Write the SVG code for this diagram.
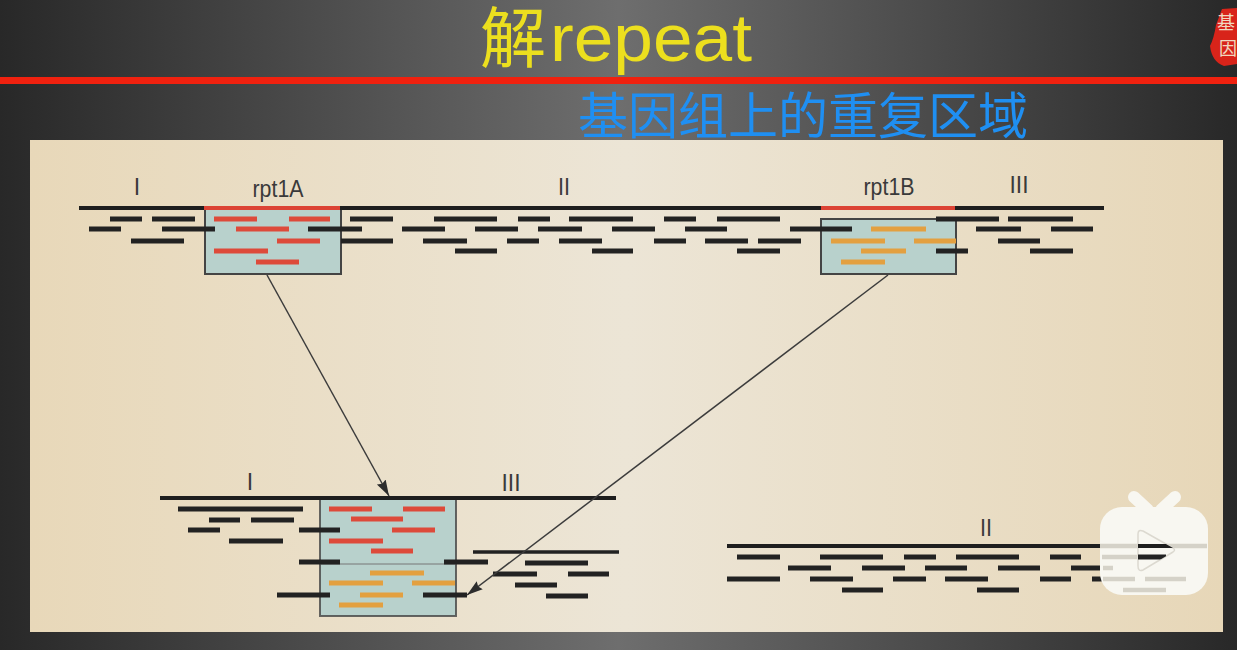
<svg xmlns="http://www.w3.org/2000/svg" width="1237" height="650" viewBox="0 0 1237 650">
<style>
.bar{stroke:#222;stroke-width:4.8;fill:none}
.red{stroke:#dd4a3a;stroke-width:4.8;fill:none}
.org{stroke:#e3a040;stroke-width:4.8;fill:none}
.main{stroke:#1e1e1e;stroke-width:4;fill:none}
.box{fill:#b8d1cc;stroke:#444;stroke-width:2}
.conn{stroke:#3c3c3c;stroke-width:1.5;fill:none;marker-end:url(#ah)}
.lab{font-family:"Liberation Sans",Arial,sans-serif;font-size:23px;fill:#3a3a3a;text-anchor:middle}
.fade{stroke:#d5d2c8;stroke-width:4.4;fill:none}
</style>
<defs>
<linearGradient id="bg" x1="0" x2="1" y1="0" y2="0"><stop offset="0" stop-color="#282828"/><stop offset=".5" stop-color="#6e6e6e"/><stop offset="1" stop-color="#282828"/></linearGradient>
<linearGradient id="pn" x1="0" x2="1" y1="0" y2="0"><stop offset="0" stop-color="#e8d8b9"/><stop offset=".5" stop-color="#ece5d6"/><stop offset="1" stop-color="#e7d7b8"/></linearGradient>
<marker id="ah" markerUnits="userSpaceOnUse" markerWidth="18" markerHeight="12" refX="16" refY="6" orient="auto"><path d="M0 1 L16 6 L0 11 L2 6 Z" fill="#2c2c2c"/></marker>
<clipPath id="tri"><path d="M1138 534 Q1138 529 1143 531 L1173 548 Q1176 550 1173 552 L1143 570 Q1138 572 1138 566 Z"/></clipPath>
</defs>
<rect width="1237" height="650" fill="url(#bg)"/>
<g id="header">
<rect x="0" y="77" width="1237" height="7" fill="#f0210f"/>
<text x="480" y="62" font-family="'Liberation Sans','Noto Sans CJK SC',sans-serif" font-size="66" fill="#ecdf1e">解</text>
<text x="550" y="61" font-family="'Liberation Sans',sans-serif" font-size="67" fill="#ecdf1e" textLength="202" lengthAdjust="spacingAndGlyphs">repeat</text>
<text x="578" y="134" font-family="'Noto Sans CJK SC',sans-serif" font-size="50" fill="#1f8ff2">基因组上的重复区域</text>
</g>
<g id="seal">
<path d="M1222 9 L1237 8 L1237 64 L1224 66 Q1212 62 1210 46 Q1214 38 1216 25 Z" fill="#d8241a"/>
<text x="1226" y="29" font-family="'Noto Sans CJK SC',sans-serif" font-size="18" fill="#f0d8c0" text-anchor="middle">基</text>
<text x="1228" y="55" font-family="'Noto Sans CJK SC',sans-serif" font-size="18" fill="#f0d8c0" text-anchor="middle">因</text>
</g>
<rect id="panel" x="30" y="140" width="1193" height="492" fill="url(#pn)"/>
<g id="top-genome">
<rect class="box" x="205" y="208" width="136" height="66"/>
<rect class="box" x="821" y="219" width="135" height="55"/>
<path class="main" d="M79 208H204M340 208H821M955 208H1104"/>
<path d="M204 208H340M821 208H955" stroke="#dc4334" stroke-width="4" fill="none"/>
<path class="bar" d="M110 219H142M152 219H195M350 219H393M434 219H497M518 219H550M569 219H633M664 219H696M717 219H780M936 219H999M1008 219H1073
M89 229H121M162 229H215M308 229H362M402 229H445M475 229H518M538 229H582M612 229H655M685 229H727M790 229H852M976 229H1021M1051 229H1093
M131 241H184M341 241H393M423 241H467M507 241H539M559 241H602M654 241H686M705 241H748M758 241H801M998 241H1040
M455 251H497M592 251H633M737 251H780M936 251H968M1030 251H1073"/>
<path class="red" d="M214 219H257M289 219H330M236 229H289M277 241H320M214 251H268M256 262H299"/>
<path class="org" d="M871 229H926M831 241H885M914 241H956M861 251H906M841 262H885"/>
</g>
<g id="labels-top">
<text class="lab" x="137" y="195">I</text>
<text class="lab" x="278" y="197" textLength="51" lengthAdjust="spacingAndGlyphs">rpt1A</text>
<text class="lab" x="564" y="195" textLength="12" lengthAdjust="spacingAndGlyphs">II</text>
<text class="lab" x="889" y="195" textLength="51" lengthAdjust="spacingAndGlyphs">rpt1B</text>
<text class="lab" x="1019" y="193" textLength="19" lengthAdjust="spacingAndGlyphs">III</text>
</g>
<g id="merged-genome">
<rect class="box" x="320" y="498" width="136" height="118" stroke-opacity=".8"/>
<path d="M320 564H456" stroke="#777" stroke-width="1"/>
<path class="main" d="M160 498H616"/>
<path class="bar" d="M178 509H303M209 520H240M251 520H294M188 530H220M299 530H340M229 541H283M299 562H340M444 562H488M525 563H588M493 574H537M568 574H609M515 585H557M277 595H330M423 595H467M546 596H588"/>
<path d="M473 552H619" stroke="#222" stroke-width="3.4" fill="none"/>
<path class="red" d="M329 509H372M403 509H445M351 519H403M392 530H435M329 541H383M371 551H413"/>
<path class="org" d="M370 573H424M329 583H383M412 583H455M360 595H403M339 605H383"/>
<text class="lab" x="250" y="490">I</text>
<text class="lab" x="511" y="491" textLength="19" lengthAdjust="spacingAndGlyphs">III</text>
</g>
<g id="connectors">
<path class="conn" d="M267 275L389 496"/>
<path class="conn" d="M888 275L467 595"/>
</g>
<g id="segment-II">
<path class="main" d="M727 546H1110"/>
<path class="bar" d="M737 557H780M820 557H883M904 557H936M956 557H1019M1050 557H1081M788 568H831M862 568H905M925 568H967M998 568H1040M1071 568H1103M727 579H780M810 579H853M893 579H926M945 579H988M1040 579H1071M1092 579H1103M842 590H883M977 590H1019"/>
<text class="lab" x="986" y="536" textLength="12" lengthAdjust="spacingAndGlyphs">II</text>
</g>
<g id="play-icon">
<path d="M1134 497L1148 510M1175 497L1161 510" stroke="#f8f7f1" stroke-width="12" stroke-linecap="round"/>
<rect x="1100" y="507" width="108" height="88" rx="22" fill="#f8f7f1"/>
<path class="fade" d="M1100 546H1207M1102 557H1137M1103 568H1113M1103 579H1135M1145 579H1186M1123 590H1166"/>
<path d="M1138 534 Q1138 529 1143 531 L1173 548 Q1176 550 1173 552 L1143 570 Q1138 572 1138 566 Z" fill="#f8f7f1" stroke="#dcd9d0" stroke-width="1.5"/>
<g clip-path="url(#tri)"><path class="main" d="M1130 546H1180"/><path class="bar" d="M1130 557H1166"/></g>
</g>
</svg>
